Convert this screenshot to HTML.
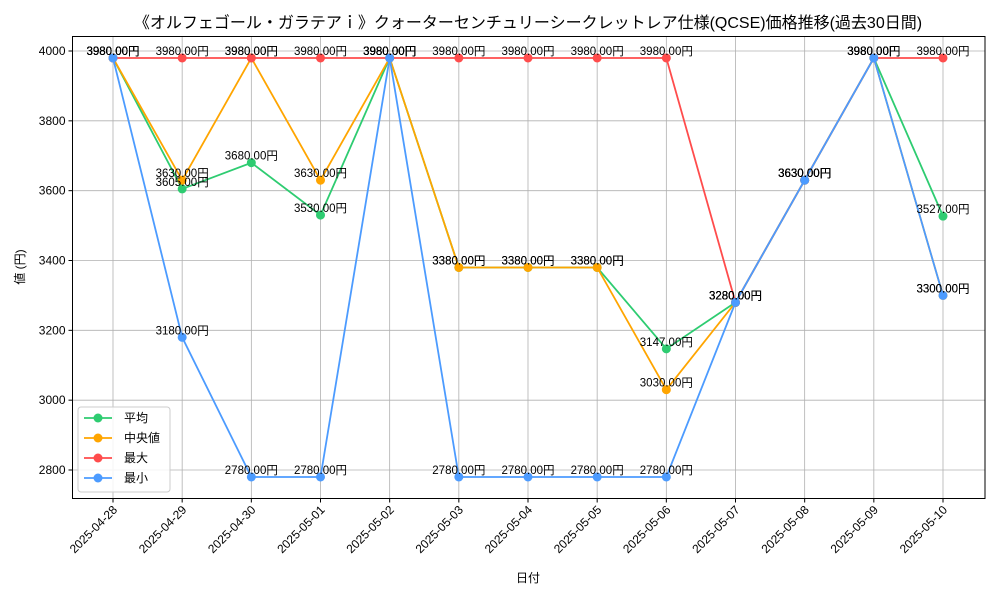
<!DOCTYPE html>
<html><head><meta charset="utf-8"><style>
body{margin:0;background:#fff}
svg text{font-family:"Liberation Sans","Noto Sans CJK JP",sans-serif;fill:#000}
</style></head><body>
<svg id="chart" width="1000" height="600" viewBox="0 0 1000 600" xmlns="http://www.w3.org/2000/svg">
<rect width="1000" height="600" fill="#fff"/>
<text x="528" y="28" font-size="16" text-anchor="middle">《オルフェゴール・ガラテアｉ》クォーターセンチュリーシークレットレア仕様(QCSE)価格推移(過去30日間)</text>
<g id="grid"></g><g id="axes"></g><g id="series"></g><g id="labels"></g>
<text x="528" y="582" font-size="12" text-anchor="middle">日付</text>
<text transform="translate(24,267) rotate(-90)" font-size="12" text-anchor="middle">値 (円)</text>
<g>
<rect x="78" y="407" width="92" height="85" rx="3" fill="#fff" fill-opacity="0.85" stroke="#ccc"/>
<g id="legend-items"></g>
</g>
</svg>
<script>
const dates=["2025-04-28","2025-04-29","2025-04-30","2025-05-01","2025-05-02","2025-05-03","2025-05-04","2025-05-05","2025-05-06","2025-05-07","2025-05-08","2025-05-09","2025-05-10"];
const avgVals=[3980,3605,3680,3530,3980,3380,3380,3380,3147,3280,3630,3980,3527];
const medVals=[3980,3630,3980,3630,3980,3380,3380,3380,3030,3280,3630,3980,3300];
const maxVals=[3980,3980,3980,3980,3980,3980,3980,3980,3980,3280,3630,3980,3980];
const minVals=[3980,3180,2780,2780,3980,2780,2780,2780,2780,3280,3630,3980,3300];
const yTicks=[2800,3000,3200,3400,3600,3800,4000];
const seriesNames=["平均","中央値","最大","最小"];
const colors=["#2ecc71","#ffa500","#ff4c4c","#4c9bff"];
const L=72.5,R=985,T=36.5,B=498.5;
const x=i=>113+i*(943-113)/(dates.length-1);
const y=v=>470-(v-2800)*(470-51)/1200;
const NS="http://www.w3.org/2000/svg";
function mk(parent,tag,attrs){const e=document.createElementNS(NS,tag);for(const k in attrs)e.setAttribute(k,attrs[k]);parent.appendChild(e);return e;}
const grid=document.getElementById('grid'),axes=document.getElementById('axes');
dates.forEach((d,i)=>{
 const g=mk(grid,'line',{x1:x(i),x2:x(i),y1:T,y2:B,stroke:'#b0b0b0','stroke-width':0.8});
 
 
 mk(axes,'line',{x1:x(i),x2:x(i),y1:B,y2:B+4,stroke:'#000'});
 const t=mk(axes,'text',{'font-size':12,'text-anchor':'end',transform:`translate(${x(i)+5},${B+12}) rotate(-45)`});
 t.textContent=d;
 
 
});
yTicks.forEach(v=>{
 const g=mk(grid,'line',{x1:L,x2:R,y1:y(v),y2:y(v),stroke:'#b0b0b0','stroke-width':0.8});
 
 
 mk(axes,'line',{x1:L-4,x2:L,y1:y(v),y2:y(v),stroke:'#000'});
 const t=mk(axes,'text',{x:L-7,y:y(v)+4,'font-size':12,'text-anchor':'end'});
 t.textContent=v;
 
 
});
const frame=mk(axes,'rect',{x:L,y:T,width:R-L,height:B-T,fill:'none',stroke:'#000','stroke-width':1});


const all=[avgVals,medVals,maxVals,minVals];
const sg=document.getElementById('series'),lg=document.getElementById('labels');
all.forEach((vals,s)=>{
 const p=mk(sg,'polyline',{points:vals.map((v,i)=>x(i)+','+y(v)).join(' '),fill:'none',stroke:colors[s],'stroke-width':1.8});
 
 
 vals.forEach((v,i)=>{
  const c=mk(sg,'circle',{cx:x(i),cy:y(v),r:4.5,fill:colors[s]});
  
  
  const t=mk(lg,'text',{x:x(i),y:y(v)-3,'font-size':11.5,'text-anchor':'middle'});
  t.textContent=v.toFixed(2)+'円';
  
  
 });
});
const li=document.getElementById('legend-items');
seriesNames.forEach((n,s)=>{
 const yy=418+s*20;
 mk(li,'line',{x1:84,x2:112,y1:yy,y2:yy,stroke:colors[s],'stroke-width':1.8});
 const c=mk(li,'circle',{cx:98,cy:yy,r:4.5,fill:colors[s]});
 
 
 const t=mk(li,'text',{x:124,y:yy+4,'font-size':12});
 t.textContent=n;
 
 
});
</script>
</body></html>
